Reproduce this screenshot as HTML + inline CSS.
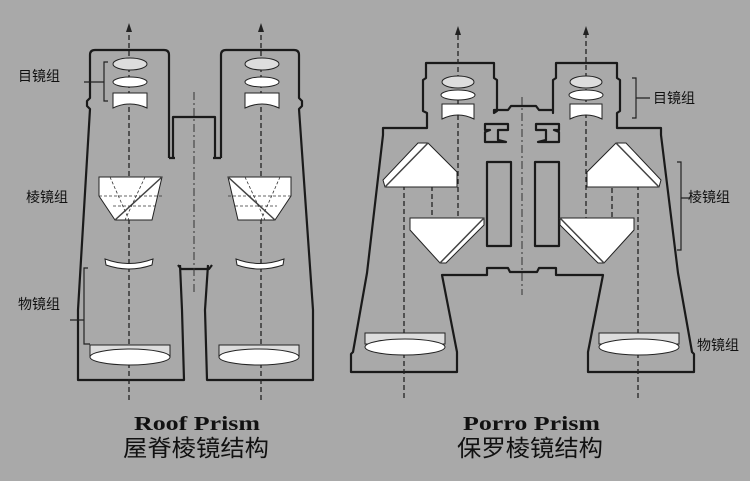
<!DOCTYPE html>
<html><head><meta charset="utf-8"><style>
html,body{margin:0;padding:0;background:#a9a9a9;}
svg{display:block}
</style></head><body>
<svg width="750" height="481" viewBox="0 0 750 481" xmlns="http://www.w3.org/2000/svg">
<rect width="750" height="481" fill="#a9a9a9"/>
<g fill="none" stroke="#1a1a1a" stroke-width="2.2" stroke-linejoin="round">
<!-- Roof prism body -->
<path d="M169,158 L169,55 Q169,50 164,50 L95,50 Q90,50 90,55 L90,98 L87,101 L87,106 L90,109 L78,310 L78,380 L184,380 L182,310 L180,265"/>
<path d="M173,158 L173,117 L215,117 L215,158"/>
<path d="M169,158 L175,158 M213,158 L221,158"/>
<path d="M178,265 L181,269 L209,269 L212,265"/>
<path d="M221,158 L221,55 Q221,50 226,50 L294,50 Q299,50 299,55 L299,98 L302,101 L302,106 L299,109 L313,310 L313,380 L207,380 L205,310 L208,265"/>
<!-- Porro body -->
<path d="M427,128 L427,113 L423,111 L423,80 L426,78 L426,63 L494,63 L494,78 L497,80 L497,111 L494,113 L494,110 L508,110 L511,106 L536,106 L539,110 L553,110 L553,113 L553,80 L556,78 L556,63 L617,63 L617,78 L620,80 L620,111 L617,113 L617,128 L661,128 L661,135 L678,273 L692,352 L694,354 L694,372 L588,372 L588,352 L603,275 L556,275 L556,268 L539,268 L537,272 L510,272 L508,268 L487,268 L487,275 L442,275 L457,352 L457,372 L351,372 L351,354 L353,352 L367,273 L383,135 L383,128 Z"/>
<path d="M485,124 L508,124 L508,130 L498,130 L498,140 L506,142 L485,142 L485,132 L490,130 L485,130 Z" fill="#a9a9a9"/>
<path d="M559,124 L536,124 L536,130 L546,130 L546,140 L538,142 L559,142 L559,132 L554,130 L559,130 Z" fill="#a9a9a9"/>
<rect x="487" y="162" width="24" height="84"/>
<rect x="535" y="162" width="24" height="84"/>
</g>
<!-- axes -->
<g stroke="#222" stroke-width="1.3" stroke-dasharray="5,3" fill="none">
<line x1="129" y1="400" x2="129" y2="30"/>
<line x1="261" y1="400" x2="261" y2="30"/>
<path d="M404,398 L404,158 L432,158 L432,240 L458,240 L458,33"/>
<path d="M638,398 L638,158 L612,158 L612,240 L586,240 L586,33"/>
</g>
<g fill="#222">
<path d="M126,32 L129,23 L132,32 Z"/><path d="M258,32 L261,23 L264,32 Z"/>
<path d="M455,35 L458,26 L461,35 Z"/><path d="M583,35 L586,26 L589,35 Z"/>
</g>
<g stroke="#333" stroke-width="1" stroke-dasharray="8,3,2,3">
<line x1="194" y1="92" x2="194" y2="292"/>
<line x1="522" y1="97" x2="522" y2="295"/>
</g>
<!-- lenses -->
<g fill="#fff" stroke="#222" stroke-width="1">
<ellipse cx="130" cy="64" rx="17" ry="6" fill="#ddd"/><ellipse cx="262" cy="64" rx="17" ry="6" fill="#ddd"/>
<ellipse cx="130" cy="82" rx="17" ry="5"/><ellipse cx="262" cy="82" rx="17" ry="5"/>
<path d="M113,93 L147,93 L147,108 Q130,100 113,108 Z"/><path d="M245,93 L279,93 L279,108 Q262,100 245,108 Z"/>
<path d="M99,177 L162,177 L152,220 L115,220 L99,196 Z"/>
<path d="M228,177 L291,177 L291,196 L275,220 L238,220 Z"/>
<path d="M105,259 Q129,268 153,259 L152,265 Q129,273 106,265 Z"/>
<path d="M236,259 Q260,268 284,259 L283,265 Q260,273 237,265 Z"/>
<rect x="90" y="345" width="80" height="12" fill="#ddd"/><ellipse cx="130" cy="357" rx="40" ry="8"/>
<rect x="219" y="345" width="80" height="12" fill="#ddd"/><ellipse cx="259" cy="357" rx="40" ry="8"/>
<ellipse cx="458" cy="82" rx="16" ry="6" fill="#ddd"/><ellipse cx="586" cy="82" rx="16" ry="6" fill="#ddd"/>
<ellipse cx="458" cy="95" rx="17" ry="5"/><ellipse cx="586" cy="95" rx="17" ry="5"/>
<path d="M442,104 L474,104 L474,119 Q458,111 442,119 Z"/><path d="M570,104 L602,104 L602,119 Q586,111 570,119 Z"/>
<path d="M418,143 L428,143 L457,172 L457,187 L385,187 L383,180 Z"/>
<path d="M410,218 L484,218 L484,225 L446,263 L440,263 L410,230 Z"/>
<path d="M626,143 L616,143 L587,172 L587,187 L659,187 L661,180 Z"/>
<path d="M634,218 L560,218 L560,225 L598,263 L604,263 L634,230 Z"/>
<rect x="365" y="333" width="80" height="11" fill="#ddd"/><ellipse cx="405" cy="347" rx="40" ry="8"/>
<rect x="599" y="333" width="80" height="11" fill="#ddd"/><ellipse cx="639" cy="347" rx="40" ry="8"/>
</g>
<g stroke="#444" stroke-width="1.5">
<line x1="162" y1="177" x2="115" y2="220"/><line x1="228" y1="177" x2="275" y2="220"/>
<line x1="428" y1="143" x2="385" y2="187"/><line x1="484" y1="218" x2="440" y2="263"/>
<line x1="616" y1="143" x2="659" y2="187"/><line x1="560" y1="218" x2="604" y2="263"/>
</g>
<g stroke="#333" stroke-width="0.8" stroke-dasharray="3,2" fill="none">
<path d="M110,177 L129,220 M145,177 L125,220 M99,196 L162,196 M113,206 L155,206"/>
<path d="M280,177 L261,220 M245,177 L265,220 M228,196 L291,196 M235,206 L277,206"/>
</g>
<g stroke="#222" stroke-width="1.2" fill="none">
<path d="M108,62 L104,62 L104,101 L108,101 M104,82 L84,82"/>
<path d="M88,268 L84,268 L84,344 L90,344 M84,320 L70,320"/>
<path d="M632,78 L636,78 L636,118 L632,118 M636,98 L650,98"/>
<path d="M677,162 L681,162 L681,250 L677,250 M681,198 L690,198"/>
</g>
<g font-family="'Liberation Sans','Noto Sans CJK SC',sans-serif" font-size="14" fill="#111">
<text x="18" y="81">目镜组</text>
<text x="26" y="202">棱镜组</text>
<text x="18" y="309">物镜组</text>
<text x="653" y="103">目镜组</text>
<text x="688" y="202">棱镜组</text>
<text x="697" y="350">物镜组</text>
</g>
<g font-family="'Liberation Serif',serif" font-weight="bold" font-size="20" fill="#111">
<text x="134" y="430" textLength="126" lengthAdjust="spacingAndGlyphs">Roof  Prism</text>
<text x="463" y="430" textLength="137" lengthAdjust="spacingAndGlyphs">Porro  Prism</text>
</g>
<g font-family="'Liberation Sans','Noto Sans CJK SC',sans-serif" font-size="23" fill="#111">
<text x="123" y="456" textLength="146" lengthAdjust="spacingAndGlyphs">屋脊棱镜结构</text>
<text x="457" y="456" textLength="146" lengthAdjust="spacingAndGlyphs">保罗棱镜结构</text>
</g>
</svg>
</body></html>
